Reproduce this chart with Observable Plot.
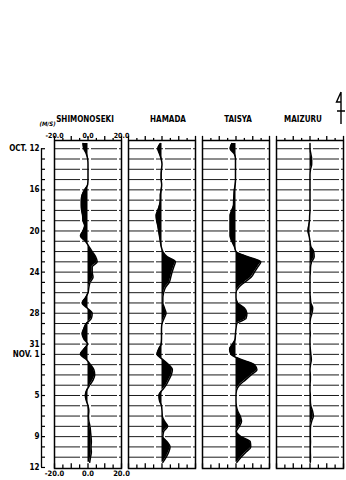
<!DOCTYPE html>
<html><head><meta charset="utf-8">
<script src="https://cdn.jsdelivr.net/npm/d3@7"></script>
<script src="https://cdn.jsdelivr.net/npm/@observablehq/plot@0.6"></script>
<style>html,body{margin:0;padding:0;background:#fff;}#chart{width:346px;height:480px;}</style>
</head><body><div id="chart"></div>
<script>
// Stations (panels)
const stations = ["SHIMONOSEKI", "HAMADA", "TAISYA", "MAIZURU"];
// Time in days after Oct 12 (0 = Oct 12, 31 = Nov 12)
const days = [-0.5,0,0.5,1,1.5,2,2.5,3,3.5,4,4.5,5,5.5,6,6.5,7,7.5,8,8.5,9,9.5,10,10.5,11,11.5,12,12.5,13,13.5,14,14.5,15,15.5,16,16.5,17,17.5,18,18.5,19,19.5,20,20.5,21,21.5,22,22.5,23,23.5,24,24.5,25,25.5,26,26.5,27,27.5,28,28.5,29,29.5,30,30.5];
// Wind speed (M/S) per station
const shimonoseki = [-3,-2.5,-1,-0.2,0,0,0,0,-0.2,-2,-3.5,-4,-4,-3.8,-3.2,-3,-2,-3,-4.5,-1.5,0.5,2.5,4.5,5.5,2.5,2.5,3,1.2,0.5,0,-1.5,-3.5,-0.5,2.5,2,-1,-2.5,-3.5,-2.5,-0.3,-2.5,-4.5,-1,1.5,3.5,4,3,1,-0.8,-1.6,-1,0,0.5,0.3,0.5,1.2,1.5,1.8,2,1.8,2,1.5,1];
const hamada = [-1,-2.5,-1.5,-0.5,0,-0.3,-0.5,-0.5,-0.2,-0.5,-1,-1,-1.5,-2.5,-3.5,-3.2,-2.5,-2,-1.5,-1,-0.5,0.5,3,8,7,6,5.2,4.3,2,1,0.5,0.5,1.5,2.4,1.2,0,-0.3,-0.3,-0.3,-0.5,-2,-3,0.5,4,6.2,5.5,4,2.4,0,-1.8,-1.5,-0.3,0,0.2,1.5,3.4,1,0.5,3,4.8,4,2.5,0.5];
const taisya = [-2.5,-3.5,-1,-0.3,-0.3,-0.3,-0.3,-0.3,-0.5,-1,-1.2,-1.4,-1.5,-2.5,-3.5,-3.5,-3.5,-3.5,-3.5,-2.5,-1,0,7,14.8,13,11,9,5,1.5,0,0,1,5,6.5,6,0.5,0,-0.3,-0.5,-2,-3.8,-3,3,11,12.5,9,5.5,2,0.3,0,0,0.2,1,2.5,3.3,2,0.2,3,8.5,8.8,6,3,0.5];
const maizuru = [0,0,0.5,1,1,0.3,0,0,0,0,0,0,0,0,-0.2,-0.3,-0.8,-1.2,-0.5,0,0.5,2.2,2.5,1,0.3,0.2,0,0,0,0,0.2,0.5,1.6,1.2,0.3,0,0,0.2,0,0,0.2,0.5,0.8,0.3,0,0.2,0.2,0,0,0.2,0.2,0.5,1.5,2,1,0.3,0.2,0.2,0.3,0.2,0.2,0.3,0.2];
const series = [shimonoseki, hamada, taisya, maizuru];

// Axis ticks and labels
const dayTicks = [0,1,2,3,4,5,6,7,8,9,10,11,12,13,14,15,16,17,18,19,20,21,22,23,24,25,26,27,28,29,30,31];
const dayLabelTicks = [0, 4, 8, 12, 16, 19, 20, 24, 28, 31];
const dayLabelTexts = ["OCT. 12", "16", "20", "24", "28", "31", "NOV. 1", "5", "9", "12"];
const gridDays = [0,1,2,3,4,5,6,7,8,9,10,11,12,13,14,15,16,17,18,19,20,21,22,23,24,25,26,27,28,29,30];
const xMajorTicks = [-20, -10, 0, 10, 20];
const xMinorTicks = [-15, -5, 5, 15];
const xLabelTicks = [-20, 0, 20];
const xLabelTexts = ["-20.0", "0.0", "20.0"];
const unitLabel = "(M/S)";

const rows = stations.flatMap((s, i) => days.map((t, j) => ({station: s, t, v: series[i][j]})));
const first = stations[0];
const dayLabel = new Map(dayLabelTicks.map((d, i) => [d, dayLabelTexts[i]]));
const font = "'DejaVu Sans Condensed', 'Liberation Sans', sans-serif";
// small horizontal nudges of the panel titles, as in the original drawing
const titleNudge = {SHIMONOSEKI: -3, HAMADA: 6, TAISYA: 2, MAIZURU: -7};

const chart = Plot.plot({
  width: 346,
  height: 480,
  marginTop: 140,
  marginBottom: 12,
  marginLeft: 53,
  marginRight: 2,
  style: {fontFamily: font, fontWeight: "bold", background: "#fff", color: "#000"},
  fx: {domain: stations, paddingInner: 0.1, paddingOuter: 0, axis: null},
  x: {domain: [-20, 20], axis: null},
  y: {domain: [-0.8, 31.1], reverse: true, axis: null},
  marks: [
    Plot.ruleY(gridDays, {y: d => d, stroke: "#000", strokeWidth: 0.9, strokeDasharray: "26,2,7,2"}),
    Plot.areaX(rows, {fx: "station", y: "t", x1: 0, x2: "v", fill: "#000", curve: "monotone-y"}),
    Plot.lineX(rows, {fx: "station", y: "t", x: "v", stroke: "#000", strokeWidth: 1.5, curve: "monotone-y"}),
    Plot.frame({stroke: "#000", strokeWidth: 1.5}),
    // top ticks (outward)
    Plot.ruleX(xMajorTicks, {x: d => d, y1: -0.8, y2: -1.2, stroke: "#000", strokeWidth: 1.3}),
    Plot.ruleX(xMinorTicks, {x: d => d, y1: -0.8, y2: -1.0, stroke: "#000", strokeWidth: 1.3}),
    // bottom ticks (inward)
    Plot.ruleX(xMajorTicks, {x: d => d, y1: 31.1, y2: 30.65, stroke: "#000", strokeWidth: 1.3}),
    Plot.ruleX(xMinorTicks, {x: d => d, y1: 31.1, y2: 30.75, stroke: "#000", strokeWidth: 1.3}),
    // x tick labels on first panel
    Plot.text(xLabelTicks, {fx: () => first, x: d => d, text: (d, i) => xLabelTexts[i], frameAnchor: "top", dy: -7, fontSize: 7, fontWeight: "bold", fill: "#000"}),
    Plot.text(xLabelTicks, {fx: () => first, x: d => d, text: (d, i) => xLabelTexts[i], frameAnchor: "bottom", dy: 7, fontSize: 7.5, fontWeight: "bold", fill: "#000"}),
    // station titles
    ...stations.map(s => Plot.text([s], {fx: d => d, text: d => d, frameAnchor: "top", dx: titleNudge[s], dy: -24, fontSize: 8, fontWeight: "bold", fill: "#000"})),
    // unit label
    Plot.text([unitLabel], {fx: () => first, text: d => d, frameAnchor: "top-left", dx: -15, dy: -19, fontSize: 6, fontStyle: "italic", fontWeight: "bold", fill: "#000"}),
    // left date axis
    Plot.ruleX([first], {fx: d => d, x: -20, y1: 0, y2: 31, dx: -13, stroke: "#000", strokeWidth: 1.3}),
    Plot.axisY({anchor: "left", ticks: dayTicks, tickSize: 4, tickPadding: 2, dx: -9, tickFormat: d => dayLabel.get(d) ?? "", fontSize: 8, fontWeight: "bold", fill: "#000", strokeWidth: 1.2, label: null})
  ]
});
document.getElementById("chart").appendChild(chart);

// north arrow decoration at top right
const svg = d3.select(chart);
const g = svg.append("g").attr("fill", "none").attr("stroke", "#000").attr("stroke-width", 1.4);
g.append("path").attr("d", "M341,92 V124 M341,92 L336.5,102 H341 M337,111 H345");
</script></body></html>
